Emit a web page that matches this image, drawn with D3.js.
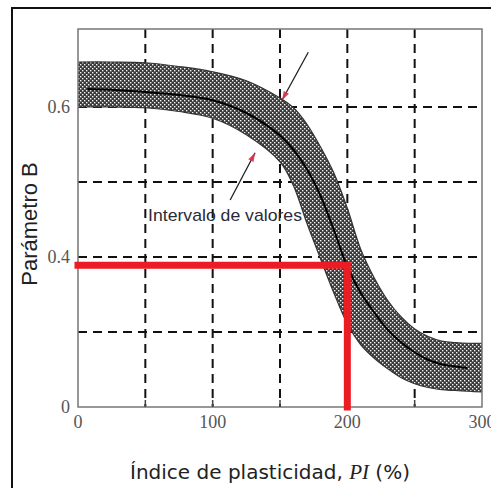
<!DOCTYPE html>
<html>
<head>
<meta charset="utf-8">
<script src="https://cdn.jsdelivr.net/npm/d3@7/dist/d3.min.js"></script>
<style>
  html, body { margin: 0; padding: 0; background: #fff; }
  svg { display: block; }
</style>
</head>
<body>
<script>
// ---- Data ----
const bandPI     = [0, 25, 50, 75, 100, 125, 150, 160, 170, 180, 190, 200, 210, 220, 230, 240, 250, 260, 270, 280, 290, 300];
const bandUpper  = [0.660, 0.660, 0.659, 0.654, 0.647, 0.635, 0.612, 0.599, 0.577, 0.547, 0.512, 0.465, 0.410, 0.372, 0.342, 0.320, 0.304, 0.294, 0.288, 0.286, 0.285, 0.285];
const bandLower  = [0.600, 0.600, 0.599, 0.594, 0.585, 0.563, 0.527, 0.495, 0.445, 0.398, 0.352, 0.311, 0.283, 0.265, 0.251, 0.239, 0.231, 0.226, 0.223, 0.222, 0.221, 0.220];

const centerPI   = [7, 25, 50, 75, 100, 125, 150, 160, 170, 180, 190, 200, 210, 220, 230, 240, 250, 260, 270, 280, 289];
const centerB    = [0.624, 0.623, 0.620, 0.616, 0.609, 0.592, 0.562, 0.543, 0.517, 0.482, 0.436, 0.387, 0.352, 0.326, 0.303, 0.286, 0.273, 0.263, 0.257, 0.254, 0.252];

// red reading lines (PI = 200 -> B)
const readPI = [0, 200, 200];
const readB  = [0.389, 0.389, 0.2];

// axes
const xDomain = [0, 300];
const yDomain = [0.2, 0.704];
const xTickValues = [0, 100, 200, 300];
const xTickLabels = ["0", "100", "200", "300"];
const yTickValues = [0.2, 0.4, 0.6];
const yTickLabels = ["0", "0.4", "0.6"];
const xGrid = [50, 100, 150, 200, 250];
const yGrid = [0.3, 0.4, 0.5, 0.6];

// annotation
const noteText = "Intervalo de valores";
const notePos = [52, 0.448];
const arrows = [
  { from: [171, 0.673], to: [151.5, 0.609] },
  { from: [113, 0.476], to: [131.5, 0.539] }
];

const xTitle = ["Índice de plasticidad, ", "PI", " (%)"];
const yTitle = "Parámetro B";

// ---- Layout ----
const W = 491, H = 488;
const M = { left: 78, top: 29, right: 9, bottom: 81 };

const svg = d3.select("body").append("svg").attr("width", W).attr("height", H);

const x = d3.scaleLinear().domain(xDomain).range([M.left, W - M.right]);
const y = d3.scaleLinear().domain(yDomain).range([H - M.bottom, M.top]);

const defs = svg.append("defs");
const pat = defs.append("pattern").attr("id", "hatch")
  .attr("patternUnits", "userSpaceOnUse").attr("width", 4).attr("height", 4);
pat.append("rect").attr("width", 4).attr("height", 4).attr("fill", "#3a3a3a");
pat.append("rect").attr("x", 0).attr("y", 0).attr("width", 1.4).attr("height", 1.4).attr("fill", "#f4f4f4");
pat.append("rect").attr("x", 2).attr("y", 2).attr("width", 1.4).attr("height", 1.4).attr("fill", "#f4f4f4");

// outer frame (only top and left visible in reference)
svg.append("path").attr("d", `M12,${H + 5} L12,8 L${W + 5},8`)
  .attr("fill", "none").attr("stroke", "#111").attr("stroke-width", 2);

const x0 = x(xDomain[0]), x1 = x(xDomain[1]);
const y0 = y(yDomain[0]), y1 = y(yDomain[1]);

// grid
const grid = svg.append("g").attr("stroke", "#111").attr("stroke-width", 2).attr("stroke-dasharray", "9,6");
grid.selectAll("line.v").data(xGrid).join("line").attr("class", "v")
  .attr("x1", d => x(d)).attr("x2", d => x(d)).attr("y1", y1).attr("y2", y0);
grid.selectAll("line.h").data(yGrid).join("line").attr("class", "h")
  .attr("x1", x0).attr("x2", x1).attr("y1", d => y(d)).attr("y2", d => y(d));

// band
const curve = d3.curveCatmullRom.alpha(0.5);
const band = bandPI.map((p, i) => ({ p, u: bandUpper[i], l: bandLower[i] }));
const area = d3.area().x(d => x(d.p)).y0(d => y(d.l)).y1(d => y(d.u)).curve(curve);
svg.append("path").datum(band).attr("d", area)
  .attr("fill", "url(#hatch)").attr("stroke", "none");
const edge = d3.line().x(d => x(d[0])).y(d => y(d[1])).curve(curve);
svg.append("path").attr("d", edge(bandPI.map((p, i) => [p, bandUpper[i]])))
  .attr("fill", "none").attr("stroke", "#333").attr("stroke-width", 1.2);
svg.append("path").attr("d", edge(bandPI.map((p, i) => [p, bandLower[i]])))
  .attr("fill", "none").attr("stroke", "#333").attr("stroke-width", 1.2);

// centre line
svg.append("path").attr("d", edge(centerPI.map((p, i) => [p, centerB[i]])))
  .attr("fill", "none").attr("stroke", "#000").attr("stroke-width", 2);

// plot frame
svg.append("rect").attr("x", x0).attr("y", y1).attr("width", x1 - x0).attr("height", y0 - y1)
  .attr("fill", "none").attr("stroke", "#777").attr("stroke-width", 1.5);

// bottom small ticks
svg.append("g").selectAll("line").data(xGrid).join("line")
  .attr("x1", d => x(d)).attr("x2", d => x(d)).attr("y1", y0).attr("y2", y0 - 7)
  .attr("stroke", "#444").attr("stroke-width", 1.5);

// red reading lines
svg.append("path")
  .attr("d", d3.line().x(d => x(d[0])).y(d => y(d[1]))(readPI.map((p, i) => [p, readB[i]])))
  .attr("fill", "none").attr("stroke", "#ec1c24").attr("stroke-width", 7)
  .attr("stroke-linejoin", "miter").attr("stroke-linecap", "square");

// tick labels
const tickFont = "'Liberation Serif', 'Times New Roman', serif";
svg.append("g").selectAll("text").data(xTickValues).join("text")
  .attr("x", d => x(d)).attr("y", 428).attr("text-anchor", "middle")
  .attr("font-family", tickFont).attr("font-size", 18).attr("fill", "#555")
  .text((d, i) => xTickLabels[i]);
svg.append("g").selectAll("text").data(yTickValues).join("text")
  .attr("x", 70).attr("y", d => y(d)).attr("dy", "0.35em").attr("text-anchor", "end")
  .attr("font-family", tickFont).attr("font-size", 18).attr("fill", "#555")
  .text((d, i) => yTickLabels[i]);

// axis titles
svg.append("text").attr("transform", `translate(37,${224}) rotate(-90)`)
  .attr("text-anchor", "middle").attr("font-family", "'Liberation Sans', Arial, sans-serif")
  .attr("font-size", 22).attr("fill", "#222").text(yTitle);

const xt = svg.append("text").attr("x", 270).attr("y", 479).attr("text-anchor", "middle")
  .attr("font-family", "'DejaVu Sans', Verdana, sans-serif").attr("font-size", 20).attr("fill", "#222");
xt.append("tspan").text(xTitle[0]);
xt.append("tspan").attr("font-family", "'Liberation Serif', serif").attr("font-style", "italic").attr("font-size", 21).text(xTitle[1]);
xt.append("tspan").text(xTitle[2]);

// annotation
svg.append("text").attr("x", x(notePos[0])).attr("y", y(notePos[1]))
  .attr("font-family", "'Liberation Sans Narrow', 'Arial Narrow', 'Liberation Sans', sans-serif")
  .attr("font-size", 17).attr("fill", "#2a2a3a")
  .attr("textLength", 154).attr("lengthAdjust", "spacingAndGlyphs").text(noteText);

arrows.forEach(a => {
  const fx = x(a.from[0]), fy = y(a.from[1]), tx = x(a.to[0]), ty = y(a.to[1]);
  svg.append("line").attr("x1", fx).attr("y1", fy).attr("x2", tx).attr("y2", ty)
    .attr("stroke", "#222").attr("stroke-width", 1.3);
  const ang = Math.atan2(ty - fy, tx - fx);
  const L = 9, Wd = 3;
  const bx = tx - L * Math.cos(ang), by = ty - L * Math.sin(ang);
  const px = -Math.sin(ang) * Wd, py = Math.cos(ang) * Wd;
  svg.append("path").attr("d", `M${tx},${ty} L${bx + px},${by + py} L${bx - px},${by - py} Z`)
    .attr("fill", "#e0304a").attr("opacity", 0.9);
});
</script>
</body>
</html>
